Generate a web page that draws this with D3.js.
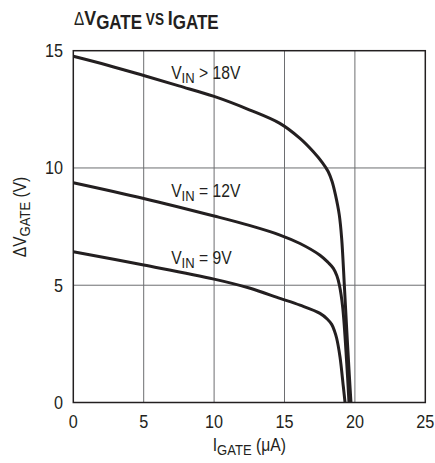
<!DOCTYPE html>
<html>
<head>
<meta charset="utf-8">
<script src="https://cdn.jsdelivr.net/npm/d3@7"></script>
<style>
  body { margin: 0; background: #fff; }
  text { font-family: "Liberation Sans", Arial, sans-serif; fill: #231f20; }
</style>
</head>
<body>
<script>
// curve data, IGATE in uA, dVGATE in V
const vin18 = [
  [0, 14.76], [2.5, 14.37], [5, 13.94], [7.5, 13.5], [10, 13.05], [12.5, 12.48],
  [14.67, 11.9], [16.1, 11.26], [17.05, 10.69], [17.7, 10.22], [18.1, 9.85],
  [18.38, 9.42], [18.62, 8.85], [18.89, 8.0], [19.06, 7.0], [19.25, 5.0],
  [19.42, 3.1], [19.6, 1.2], [19.72, 0]
];
const vin12 = [
  [0, 9.37], [5, 8.7], [10, 7.95], [12.5, 7.55], [14.68, 7.14], [16.1, 6.78],
  [17.52, 6.28], [18.1, 5.97], [18.47, 5.72], [18.72, 5.4], [18.9, 5.0],
  [19.13, 4.08], [19.42, 1.68], [19.58, 0]
];
const vin9 = [
  [0, 6.43], [5, 5.86], [10, 5.26], [12.5, 4.88], [14.68, 4.44], [16.1, 4.15],
  [17.52, 3.8], [18.05, 3.55], [18.35, 3.33], [18.55, 3.05], [18.7, 2.75],
  [18.94, 1.95], [19.18, 0.67], [19.3, 0]
];
const xTicks = [0, 5, 10, 15, 20, 25];
const yTicks = [0, 5, 10, 15];

// label positions are in data units
const labels = [
  { x: 6.95, y: 13.8, main: "V", sub: "IN", rest: " > 18V" },
  { x: 6.95, y: 8.75, main: "V", sub: "IN", rest: " = 12V" },
  { x: 6.95, y: 5.9, main: "V", sub: "IN", rest: " = 9V" }
];

const W = 435, H = 463;
const plotL = 73.3, plotR = 425.3, plotT = 50.7, plotB = 402.5;

const svg = d3.select("body").append("svg")
  .attr("width", W)
  .attr("height", H);

const x = d3.scaleLinear().domain([0, 25]).range([plotL, plotR]);
const y = d3.scaleLinear().domain([0, 15]).range([plotB, plotT]);

// condensed text: the reference uses a narrow face, squeeze a normal one
function ctext(px, py, k, rot) {
  return svg.append("g")
    .attr("transform", `translate(${px},${py})` + (rot ? ` rotate(${rot})` : "") + ` scale(${k},1)`)
    .append("text");
}

// grid
svg.append("g")
  .selectAll("line")
  .data(xTicks.slice(1, -1))
  .join("line")
    .attr("x1", d => x(d)).attr("x2", d => x(d))
    .attr("y1", plotT).attr("y2", plotB)
    .attr("stroke", "#6d6e71").attr("stroke-width", 1);

svg.append("g")
  .selectAll("line")
  .data(yTicks.slice(1, -1))
  .join("line")
    .attr("x1", plotL).attr("x2", plotR)
    .attr("y1", d => y(d)).attr("y2", d => y(d))
    .attr("stroke", "#6d6e71").attr("stroke-width", 1);

// frame
svg.append("rect")
  .attr("x", plotL).attr("y", plotT)
  .attr("width", plotR - plotL).attr("height", plotB - plotT)
  .attr("fill", "none")
  .attr("stroke", "#231f20")
  .attr("stroke-width", 1.5);

// tick labels
xTicks.forEach(d => {
  ctext(x(d), 428, 0.9)
    .attr("text-anchor", "middle")
    .attr("font-size", 18)
    .text(d);
});
yTicks.forEach(d => {
  ctext(63, y(d) + 6.5, 0.9)
    .attr("text-anchor", "end")
    .attr("font-size", 18)
    .text(d);
});

// curves
const line = d3.line()
  .x(d => x(d[0]))
  .y(d => y(d[1]))
  .curve(d3.curveCatmullRom.alpha(0.5));

svg.append("g")
  .selectAll("path")
  .data([vin18, vin12, vin9])
  .join("path")
    .attr("d", line)
    .attr("fill", "none")
    .attr("stroke", "#231f20")
    .attr("stroke-width", 3)
    .attr("stroke-linejoin", "round");

// curve labels
labels.forEach(l => {
  const t = ctext(x(l.x), y(l.y), 0.87).attr("font-size", 18);
  t.append("tspan").text(l.main);
  t.append("tspan").attr("dy", 4).attr("font-size", 15).text(l.sub);
  t.append("tspan").attr("dy", -4).text(l.rest);
});

// x axis title
const xt = ctext(x(12.5), 451, 0.87)
  .attr("text-anchor", "middle")
  .attr("font-size", 18);
xt.append("tspan").text("I");
xt.append("tspan").attr("dy", 4).attr("font-size", 15).text("GATE");
xt.append("tspan").attr("dy", -4).text(" (μA)");

// y axis title
const yt = ctext(26, 217, 0.87, -90)
  .attr("text-anchor", "middle")
  .attr("font-size", 18);
yt.append("tspan").text("ΔV");
yt.append("tspan").attr("dy", 4).attr("font-size", 15).text("GATE");
yt.append("tspan").attr("dy", -4).text(" (V)");

// title
const tt = ctext(74, 25, 0.85)
  .attr("font-size", 21)
  .attr("font-weight", "bold");
tt.append("tspan").attr("font-weight", "normal").attr("font-size", 18).text("Δ");
tt.append("tspan").text("V");
tt.append("tspan").attr("dy", 4).attr("font-size", 20).text("GATE");
tt.append("tspan").attr("dy", -4).attr("font-size", 16).text(" VS ");
tt.append("tspan").text("I");
tt.append("tspan").attr("dy", 4).attr("font-size", 20).text("GATE");
</script>
</body>
</html>
